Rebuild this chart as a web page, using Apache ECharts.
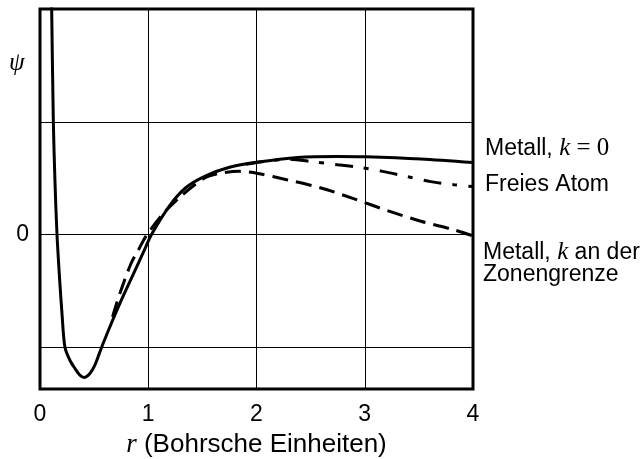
<!DOCTYPE html>
<html>
<head>
<meta charset="utf-8">
<script src="https://cdn.jsdelivr.net/npm/echarts@6/dist/echarts.min.js"></script>
<style>
  html, body { margin: 0; padding: 0; background: #fff; }
  #chart { width: 643px; height: 459px; }
</style>
</head>
<body>
<div id="chart"></div>
<script>
// r (Bohr units) vs psi
var metallK0 = [
  [0.103, 2.3], [0.108, 1.99], [0.123, 1.01], [0.138, 0.48], [0.157, 0.0],
  [0.182, -0.407], [0.203, -0.70], [0.230, -0.997], [0.276, -1.115], [0.323, -1.188],
  [0.369, -1.248], [0.408, -1.268], [0.461, -1.233], [0.507, -1.159], [0.553, -1.042],
  [0.583, -0.967], [0.645, -0.82], [0.737, -0.613], [0.814, -0.451], [0.968, -0.13],
  [1.03, 0.0], [1.198, 0.257], [1.352, 0.419], [1.536, 0.522], [1.751, 0.596],
  [1.997, 0.64], [2.381, 0.684], [2.75, 0.693], [3.005, 0.69], [3.518, 0.67], [4.0, 0.638]
];
var freiesAtom = [
  [1.9, 0.622], [2.1, 0.652], [2.3, 0.668], [2.52, 0.645], [2.75, 0.619],
  [2.965, 0.594], [3.164, 0.56], [3.394, 0.513], [3.61, 0.469], [3.825, 0.442], [4.0, 0.425]
];
var metallZonengrenze = [
  [0.67, -0.73], [0.737, -0.525], [0.841, -0.257], [0.906, -0.142], [0.983, -0.009],
  [1.136, 0.183], [1.29, 0.33], [1.505, 0.493], [1.629, 0.537], [1.843, 0.56],
  [2.012, 0.542], [2.288, 0.484], [2.596, 0.413], [2.903, 0.316], [3.21, 0.212],
  [3.518, 0.118], [3.825, 0.042], [4.0, -0.012]
];
var xTicks = [0, 1, 2, 3, 4];
var yGridValues = [-1, 0, 1];
var yLabelValues = [0];

var sans = '"Liberation Sans", Arial, sans-serif';
var serif = '"Liberation Serif", "DejaVu Serif", serif';

var chart = echarts.init(document.getElementById('chart'));

var option = {
  backgroundColor: '#fff',
  animation: false,
  grid: {
    left: 40, right: 170, top: 9, bottom: 70,
    show: true, borderColor: '#000', borderWidth: 3,
    outerBoundsMode: 'none'
  },
  xAxis: {
    type: 'value',
    min: xTicks[0], max: xTicks[xTicks.length - 1], interval: 1,
    axisLine: { show: false },
    axisTick: { show: false },
    splitLine: { show: true, lineStyle: { color: '#000', width: 1 } },
    axisLabel: { color: '#000', fontSize: 23, fontFamily: sans, margin: 14 },
    name: '{i|r} (Bohrsche Einheiten)',
    nameLocation: 'middle',
    nameGap: 42,
    nameTextStyle: {
      color: '#000', fontSize: 26, fontFamily: sans,
      rich: { i: { fontFamily: serif, fontStyle: 'italic', fontSize: 27, color: '#000' } }
    }
  },
  yAxis: {
    type: 'value',
    min: -1.37, max: 2,
    axisLine: { show: false },
    axisTick: { show: false, customValues: yGridValues },
    splitLine: { show: true, lineStyle: { color: '#000', width: 1 } },
    axisLabel: { color: '#000', fontSize: 23, fontFamily: sans, margin: 11, customValues: yLabelValues }
  },
  graphic: [
    { type: 'text', left: 9, top: 51,
      style: { text: 'ψ', font: 'italic 25px ' + serif, fill: '#000' } },
    { type: 'text', left: 485, top: 136,
      style: {
        text: '{a|Metall, }{i|k}{b| = 0}',
        rich: {
          a: { fontSize: 23, fontFamily: sans, fill: '#000' },
          i: { fontSize: 25, fontFamily: serif, fontStyle: 'italic', fill: '#000' },
          b: { fontSize: 25, fontFamily: serif, fill: '#000' }
        }
      } },
    { type: 'text', left: 485, top: 173,
      style: { text: 'Freies Atom', font: '23px ' + sans, fill: '#000' } },
    { type: 'text', left: 483, top: 240,
      style: {
        text: '{a|Metall, }{i|k}{a| an der}',
        rich: {
          a: { fontSize: 23, fontFamily: sans, fill: '#000' },
          i: { fontSize: 25, fontFamily: serif, fontStyle: 'italic', fill: '#000' }
        }
      } },
    { type: 'text', left: 483, top: 263,
      style: { text: 'Zonengrenze', font: '23px ' + sans, fill: '#000' } }
  ],
  series: [
    {
      name: 'Metall, k = 0',
      type: 'line',
      data: metallK0,
      smooth: 0.3,
      showSymbol: false,
      clip: true,
      lineStyle: { color: '#000', width: 3 }
    },
    {
      name: 'Freies Atom',
      type: 'line',
      data: freiesAtom,
      smooth: 0.3,
      showSymbol: false,
      lineStyle: { color: '#000', width: 3, type: [18, 11, 5, 11] }
    },
    {
      name: 'Metall, k an der Zonengrenze',
      type: 'line',
      data: metallZonengrenze,
      smooth: 0.3,
      showSymbol: false,
      lineStyle: { color: '#000', width: 3, type: [16, 8] }
    }
  ]
};

chart.setOption(option);
</script>
</body>
</html>
